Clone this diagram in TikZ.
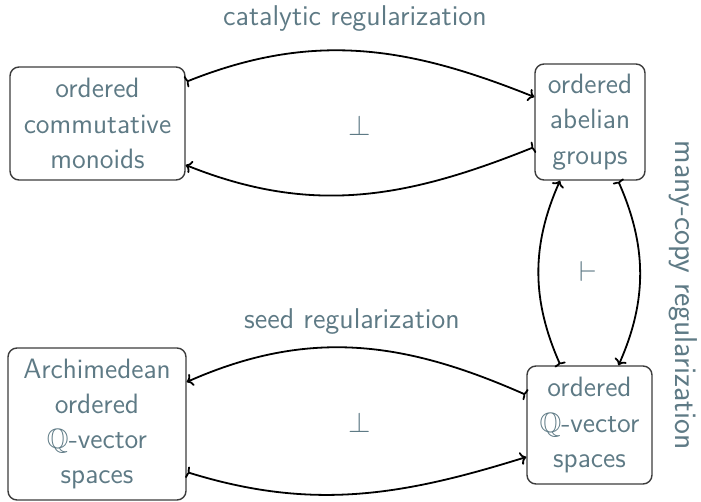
\documentclass[tikz,border=0pt]{standalone}
\usepackage{amssymb}
\usetikzlibrary{arrows.meta}
\definecolor{txt}{RGB}{94,122,133}
\definecolor{boxc}{RGB}{60,60,60}
\tikzset{
  catbox/.style={draw=boxc, line width=0.7pt, rounded corners=4.5pt, align=center,
    text=txt, font=\sffamily\fontsize{14}{17.6}\selectfont, inner sep=0pt},
  lbl/.style={text=txt, font=\sffamily\fontsize{14.3}{16}\selectfont, inner sep=0pt},
  arr/.style={line width=0.9pt, {To[reversed,length=1.6pt,width=6pt]}-{To[length=3pt,width=6.5pt]}},
}
\begin{document}
\begin{tikzpicture}[x=0.5pt,y=-0.5pt]
\useasboundingbox (0,0) rectangle (701,502);
\node[catbox, minimum width=87.5pt, minimum height=56.5pt] (ocm) at (97.5,123.5) {ordered\\commutative\\monoids};
\node[catbox, minimum width=55pt, minimum height=58pt] (oag) at (590,122) {ordered\\abelian\\groups};
\node[catbox, minimum width=89pt, minimum height=76pt] (aoq) at (97,424) {Archimedean\\ordered\\$\mathbb{Q}$-vector\\spaces};
\node[catbox, minimum width=62.5pt, minimum height=59pt] (oqv) at (589.5,425) {ordered\\$\mathbb{Q}$-vector\\spaces};

\node[lbl] (cat) at (355,19) {catalytic regularization};
\node[lbl] (seed) at (352,322) {seed regularization};
\node[lbl, rotate=-90, anchor=base, font=\sffamily\fontsize{15.8}{17}\selectfont] (many) at (675,295) {many-copy regularization};
\node[lbl] (p1) at (360,126) {$\perp$};
\node[lbl] (p2) at (360,422) {$\perp$};
\node[lbl] (v1) at (588,272) {$\vdash$};

% top pair
\draw[arr] ([yshift=20.75pt]ocm.east) .. controls +(127,-51) and +(-127,-51) .. ([yshift=12.5pt]oag.west);
\draw[arr] ([yshift=-12.5pt]oag.west) .. controls +(-127,51) and +(127,51) .. ([yshift=-20.75pt]ocm.east);
% vertical pair
\draw[arr] ([xshift=-14.5pt]oqv.north) .. controls +(-29,-65) and +(-29,65) .. ([xshift=-15pt]oag.south);
\draw[arr] ([xshift=14pt]oag.south) .. controls +(29,65) and +(29,-65) .. ([xshift=14.5pt]oqv.north);
% bottom pair
\draw[arr] ([yshift=15pt]oqv.west) .. controls +(-122,-54) and +(122,-54) .. ([yshift=21pt]aoq.east);
\draw[arr] ([yshift=-24pt]aoq.east) .. controls +(125,39) and +(-125,39) .. ([yshift=-16pt]oqv.west);
\end{tikzpicture}
\end{document}
